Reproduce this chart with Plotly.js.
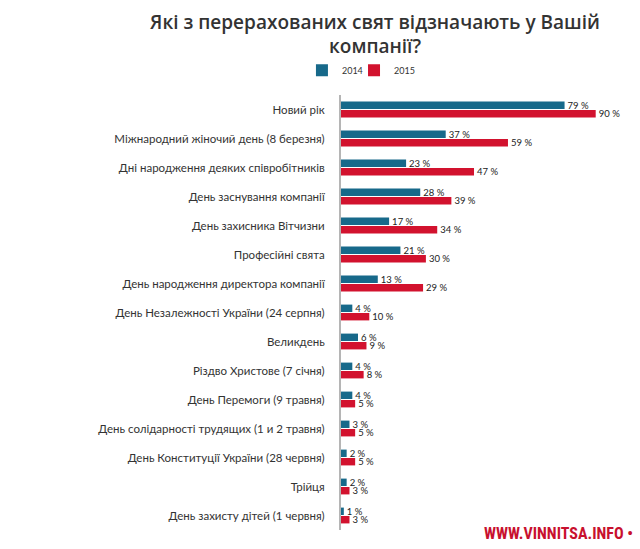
<!DOCTYPE html>
<html><head><meta charset="utf-8">
<script src="https://cdn.plot.ly/plotly-3.0.1.min.js"></script>
<style>html,body{margin:0;padding:0;background:#fff}#chart{width:640px;height:549px}</style>
</head><body><div id="chart"></div>
<script>
const categories = [
  "Новий рік",
  "Міжнародний жіночий день (8 березня)",
  "Дні народження деяких співробітників",
  "День заснування компанії",
  "День захисника Вітчизни",
  "Професійні свята",
  "День народження директора компанії",
  "День Незалежності України (24 серпня)",
  "Великдень",
  "Різдво Христове (7 січня)",
  "День Перемоги (9 травня)",
  "День солідарності трудящих (1 и 2 травня)",
  "День Конституції України (28 червня)",
  "Трійця",
  "День захисту дітей (1 червня)"
];
const values2014 = [79, 37, 23, 28, 17, 21, 13, 4, 6, 4, 4, 3, 2, 2, 1];
const values2015 = [90, 59, 47, 39, 34, 30, 29, 10, 9, 8, 5, 5, 5, 3, 3];
const seriesNames = ["2014", "2015"];

const font = "Lato, 'Open Sans', sans-serif";
const traces = [
  {type:'bar', orientation:'h', name:seriesNames[0], y:categories, x:values2014, legend:'legend',
   marker:{color:'#17698A'}, text:values2014.map(v=>v+' %'), textposition:'outside', constraintext:'none',
   textfont:{family:font, size:9.5, color:'#222'}, cliponaxis:false},
  {type:'bar', orientation:'h', name:seriesNames[1], y:categories, x:values2015, legend:'legend2',
   marker:{color:'#D2122E'}, text:values2015.map(v=>v+' %'), textposition:'outside', constraintext:'none',
   textfont:{family:font, size:9.5, color:'#222'}, cliponaxis:false}
];
const legendBase = {orientation:'h', xanchor:'left', y:1.057, yanchor:'middle', bgcolor:'rgba(0,0,0,0)',
                    font:{size:9, color:'#333'}, itemwidth:30};
const layout = {
  width:640, height:549,
  margin:{l:341, r:16, t:95, b:19},
  paper_bgcolor:'#fff', plot_bgcolor:'#fff',
  font:{family:font, color:'#333'},
  title:{text:'Які з перерахованих свят відзначають у Вашій<br>компанії?', x:0.586, xanchor:'center', y:0.948, yanchor:'middle',
         font:{family:"'Open Sans', sans-serif", size:19, color:'#333', weight:600}},
  barmode:'group', bargap:0.42, bargroupgap:0.12,
  showlegend:true,
  legend:Object.assign({}, legendBase, {x:-0.138}),
  legend2:Object.assign({}, legendBase, {x:0.046}),
  xaxis:{range:[0,100], visible:false, fixedrange:true},
  yaxis:{autorange:'reversed', showline:true, linecolor:'#b5b5b5', linewidth:2, ticks:'', ticklabelstandoff:12,
         tickfont:{family:font, size:11.5, color:'#333'}, showgrid:false},
  annotations:[
    {text:'WWW.VINNITSA.INFO •', x:1.04, xref:'paper', xanchor:'right', y:0, yref:'paper', yanchor:'top', yshift:8, showarrow:false,
     font:{family:"'Liberation Sans Narrow', 'Roboto Condensed', 'Liberation Sans', sans-serif", size:16, color:'#C8102E', weight:700}}
  ]
};
Plotly.newPlot('chart', traces, layout, {displayModeBar:false, staticPlot:true});
</script></body></html>
